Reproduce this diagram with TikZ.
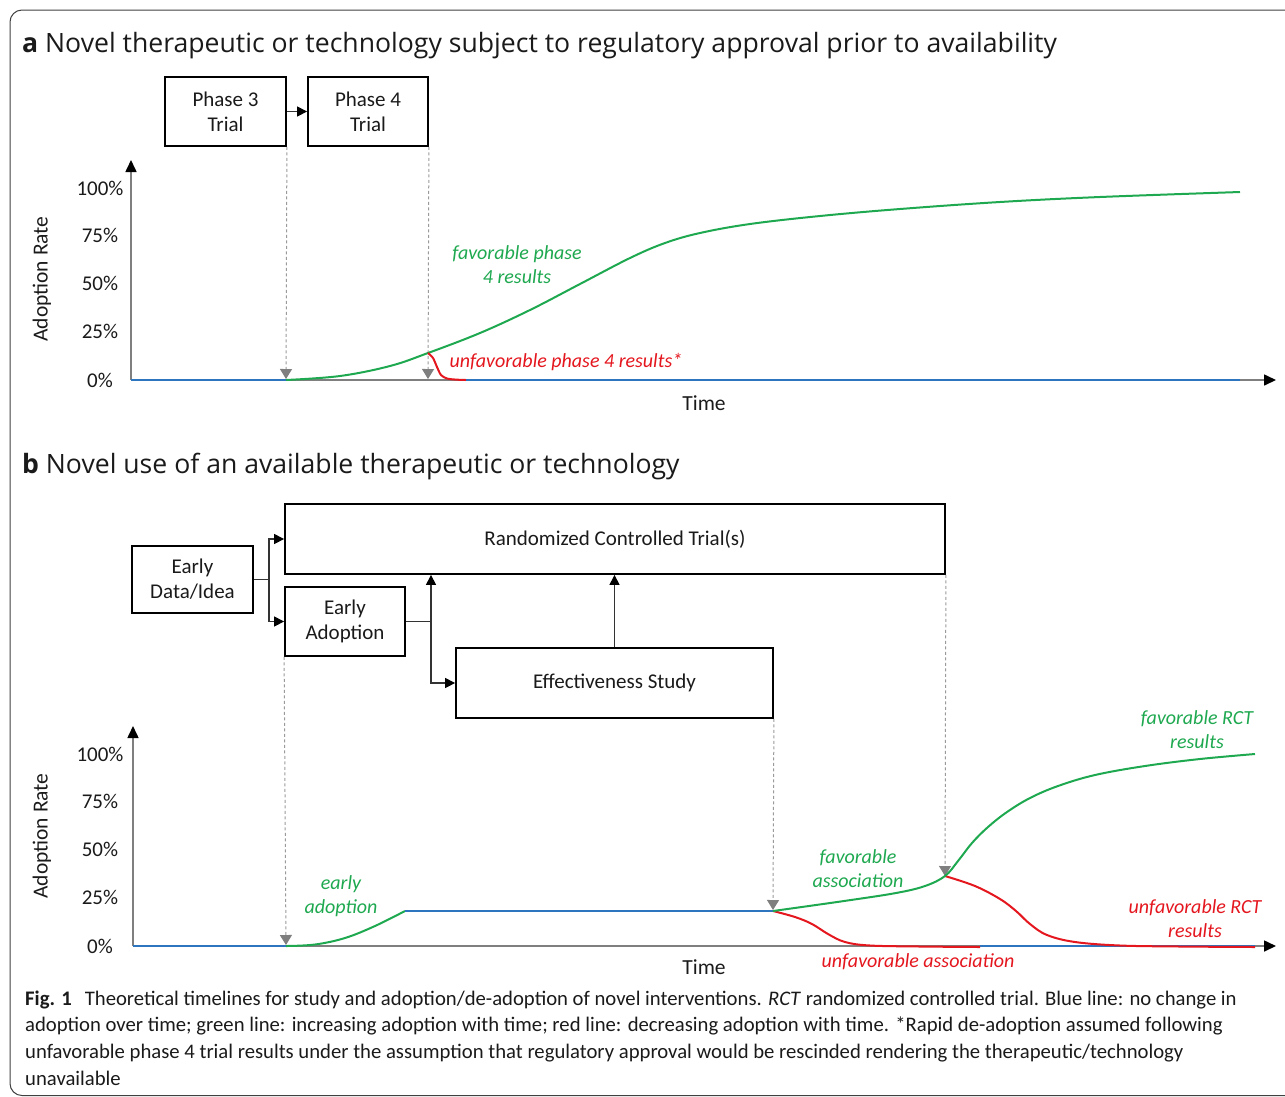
\documentclass[tikz,border=0pt]{standalone}
\usepackage{fontspec}
\setmainfont{Carlito}
\newfontfamily\headfont{Open Sans}
\usetikzlibrary{arrows.meta}
\definecolor{cgreen}{HTML}{1EA84F}
\definecolor{cred}{HTML}{E4161E}
\definecolor{cblue}{HTML}{2E75C0}
\definecolor{caxis}{HTML}{7F7F7F}
\definecolor{cdash}{HTML}{9A9A9A}
\definecolor{ctext}{HTML}{1A1A1A}
\begin{document}
\begin{tikzpicture}[x=1pt,y=-1pt,
  box/.style={draw=black, line width=1.8pt, inner sep=0pt, align=center, text=ctext,
    font=\fontsize{21}{25}\selectfont},
  conn/.style={draw=black!80, line width=1.2pt, -{Triangle[width=10pt,length=10pt,color=black]}},
  plainconn/.style={draw=black!80, line width=1.2pt},
  axisline/.style={draw=caxis, line width=1.6pt, -{Triangle[width=11pt,length=12pt,color=black]}},
  guide/.style={draw=cdash, line width=1pt, dash pattern=on 3pt off 2.5pt,
    -{Triangle[width=12pt,length=10pt,color=caxis]}},
  ticklab/.style={font=\fontsize{21}{24}\selectfont, text=ctext},
  axlab/.style={font=\fontsize{21.5}{24}\selectfont, text=ctext},
  gcurve/.style={draw=cgreen, line width=2pt},
  rcurve/.style={draw=cred, line width=2pt},
  bcurve/.style={draw=cblue, line width=2pt},
  glab/.style={font=\fontsize{20}{24}\selectfont\itshape, text=cgreen, align=center},
  rlab/.style={font=\fontsize{20}{24}\selectfont\itshape, text=cred, align=center},
  paneltitle/.style={font=\headfont\fontsize{26.6}{30}\selectfont, text=ctext, anchor=base west, inner sep=0pt},
  captxt/.style={font=\fontsize{20.7}{24}\selectfont, text=ctext, anchor=base west, inner sep=0pt}
]
\useasboundingbox (0,0) rectangle (1285,1096);
\begin{scope}
\clip (0,0) rectangle (1285,1096);
\draw[line width=1pt, black!75, rounded corners=12pt] (10,10) rectangle (1400,1095.5);
\end{scope}

% ---------------- panel a ----------------
\node[paneltitle] (ta) at (22,52) {\textbf{a} Novel therapeutic or technology subject to regulatory approval prior to availability};

\node[box, minimum width=121pt, minimum height=69pt] (p3) at (225.5,111.5) {Phase 3\\Trial};
\node[box, minimum width=120pt, minimum height=69pt] (p4) at (368,111.5) {Phase 4\\Trial};
\draw[conn] (p3.east) -- (p4.west);

\coordinate (ao) at (131,380);
\coordinate (ayt) at (131,160);
\coordinate (axt) at (1276,380);
\draw[axisline] (ao) -- (ayt);
\draw[axisline] (ao) -- (axt);

\node[ticklab] (a100) at (100,188) {100\%};
\node[ticklab] (a75) at (100,235) {75\%};
\node[ticklab] (a50) at (100,283) {50\%};
\node[ticklab] (a25) at (100,331) {25\%};
\node[ticklab] (a0) at (100,380) {0\%};
\node[axlab, rotate=90] (ayl) at (42,279) {Adoption Rate};
\node[axlab] (axl) at (704,403) {Time};

\coordinate (ag1) at (286,379);
\coordinate (ag2) at (428,379);
\draw[guide] (p3.south east) -- (ag1);
\draw[guide] (p4.south east) -- (ag2);

\draw[bcurve] (131,380) -- (286,380);
\draw[bcurve] (466,380) -- (1240,380);
\draw[gcurve] plot[smooth, tension=0.6] coordinates {(286,380) (340,376) (390,366) (428,353) (480,333) (530,310) (580,284) (630,258) (665,243) (700,233) (750,224) (820,216) (900,209) (1000,202) (1100,197) (1240,192)};
\draw[rcurve] plot[smooth, tension=0.5] coordinates {(428,353) (433,358) (437,367) (441,375) (447,378.5) (456,379.6) (466,380)};

\node[glab] (fa) at (517,265) {favorable phase\\4 results};
\node[rlab, anchor=west] (ua) at (446,362) {unfavorable phase 4 results*};

% ---------------- panel b ----------------
\node[paneltitle] (tb) at (22,473) {\textbf{b} Novel use of an available therapeutic or technology};

\node[box, minimum width=121pt, minimum height=67pt] (edi) at (192.5,579.5) {Early\\Data/Idea};
\node[box, minimum width=660pt, minimum height=70pt] (rct) at (615,539) {Randomized Controlled Trial(s)};
\node[box, minimum width=120pt, minimum height=69pt] (ea) at (345,621.5) {Early\\Adoption};
\node[box, minimum width=317pt, minimum height=70pt] (eff) at (614.5,683) {Effectiveness Study};

\coordinate (j1) at (269,579.5);
\coordinate (j2) at (431,621.5);
\draw[plainconn] (edi.east) -- (j1);
\draw[conn] (j1) |- (rct.west);
\draw[conn] (j1) |- (ea.west);
\draw[plainconn] (ea.east) -- (j2);
\draw[conn] (j2) -- (j2 |- rct.south);
\draw[conn] (j2) |- (eff.west);
\draw[conn] (eff.north) -- (eff.north |- rct.south);

\coordinate (bo) at (133,946);
\coordinate (byt) at (133,726);
\coordinate (bxt) at (1276,946);
\draw[axisline] (bo) -- (byt);
\draw[axisline] (bo) -- (bxt);

\node[ticklab] (b100) at (100,754) {100\%};
\node[ticklab] (b75) at (100,801) {75\%};
\node[ticklab] (b50) at (100,849) {50\%};
\node[ticklab] (b25) at (100,897) {25\%};
\node[ticklab] (b0) at (100,946) {0\%};
\node[axlab, rotate=90] (byl) at (42,836) {Adoption Rate};
\node[axlab] (bxl) at (704,967) {Time};

\coordinate (bg1) at (286,945);
\coordinate (bg2) at (773,910);
\coordinate (bg3) at (945,876);
\draw[guide] (ea.south west) -- (bg1);
\draw[guide] (eff.south east) -- (bg2);
\draw[guide] (rct.south east) -- (bg3);

\draw[bcurve] (133,946) -- (286,946);
\draw[gcurve] plot[smooth, tension=0.6] coordinates {(286,946) (315,944.5) (345,938) (375,926) (405,911)};
\draw[bcurve] (405,911) -- (773,911);
\draw[bcurve] (980,946) -- (1255,946);
\draw[rcurve] plot[smooth, tension=0.6] coordinates {(773,911) (795,917) (812,924) (828,934) (845,942) (870,945.5) (920,946.5) (980,947)};
\draw[rcurve] plot[smooth, tension=0.6] coordinates {(945,876) (975,886) (1000,899) (1016,911) (1030,924) (1047,935) (1075,942) (1120,945.5) (1180,946.5) (1255,947)};
\draw[gcurve] plot[smooth, tension=0.6] coordinates {(773,911) (844,901) (896,893) (925,886) (945,876) (958,861) (972,843) (988,827) (1007,812) (1030,798) (1058,786) (1095,775) (1145,766) (1200,759) (1255,754)};

\node[glab] (lea) at (341,896) {early\\adoption};
\node[glab] (lfa) at (858,869) {favorable\\association};
\node[glab] (lfr) at (1197,730) {favorable RCT\\results};
\node[rlab] (lur) at (1195,919) {unfavorable RCT\\results};
\node[rlab] (lua) at (918,962) {unfavorable association};

% ---------------- caption ----------------
\node[captxt] (c1) at (25,1005) {\textbf{Fig. 1}\hspace{0.4em} Theoretical timelines for study and adoption/de-adoption of novel interventions. \textit{RCT} randomized controlled trial. Blue line: no change in};
\node[captxt] (c2) at (25,1031) {adoption over time; green line: increasing adoption with time; red line: decreasing adoption with time. *Rapid de-adoption assumed following};
\node[captxt] (c3) at (25,1058) {unfavorable phase 4 trial results under the assumption that regulatory approval would be rescinded rendering the therapeutic/technology};
\node[captxt] (c4) at (25,1085) {unavailable};
\end{tikzpicture}
\end{document}
